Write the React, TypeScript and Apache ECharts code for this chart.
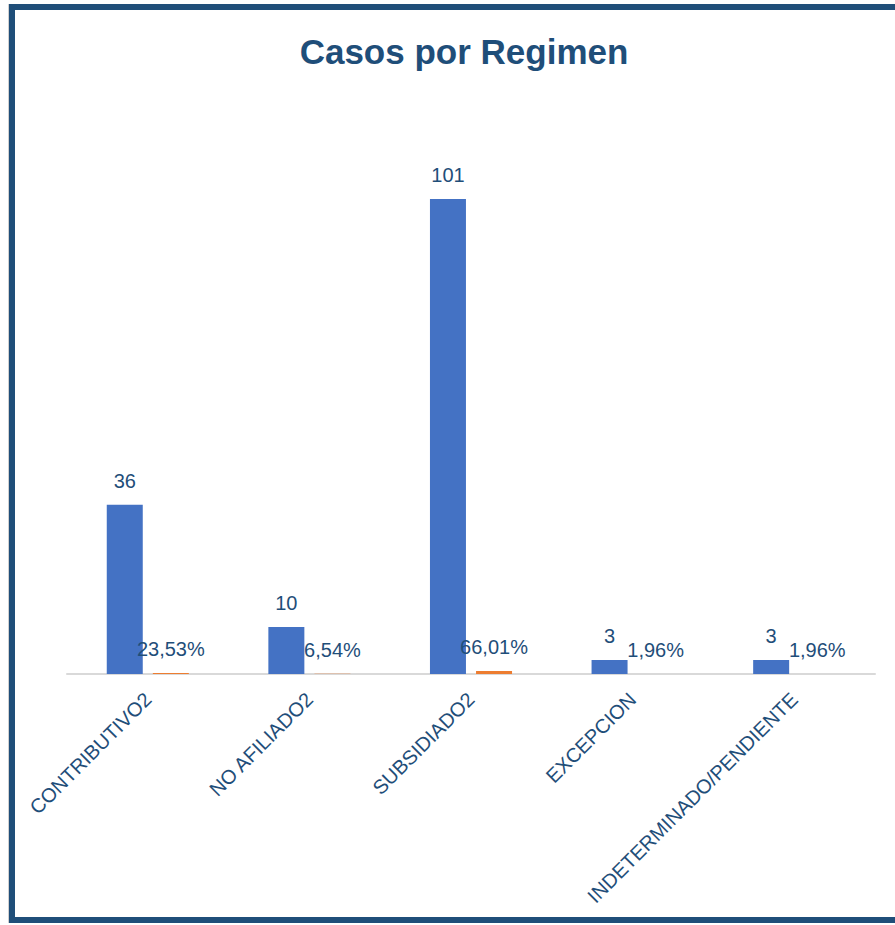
import React, { useEffect, useRef } from "react";
import * as echarts from "echarts";

const categories = [
  "CONTRIBUTIVO2",
  "NO AFILIADO2",
  "SUBSIDIADO2",
  "EXCEPCION",
  "INDETERMINADO/PENDIENTE",
];
const casos = [36, 10, 101, 3, 3];
const porcentaje = [0.2353, 0.0654, 0.6601, 0.0196, 0.0196];

const TEXT = "#1F4E79";
const FONT = "'Liberation Sans', Arial, sans-serif";

export default function App() {
  const ref = useRef<HTMLDivElement>(null);
  useEffect(() => {
    document.body.style.margin = "0";
    const chart = echarts.init(ref.current!, undefined, { renderer: "svg" });
    chart.setOption({
      animation: false,
      backgroundColor: "#ffffff",
      textStyle: { fontFamily: FONT },
      title: {
        text: "Casos por Regimen",
        left: 459,
        textAlign: "center",
        top: 29,
        textStyle: {
          color: TEXT,
          fontSize: 35,
          fontWeight: "bold",
          fontFamily: FONT,
        },
      },
      graphic: [
        {
          type: "line",
          shape: { x1: 8.5, y1: 4, x2: 8.5, y2: 923 },
          style: { stroke: "#d0d0d0", lineWidth: 1 },
          z: 10,
        },
        {
          type: "rect",
          shape: { x: 12, y: 7, width: 900, height: 913 },
          style: { fill: "none", stroke: "#1F4E79", lineWidth: 6 },
          z: 10,
        },
      ],
      grid: { left: 67, right: 20, top: 109.6, bottom: 251, containLabel: false },
      xAxis: {
        type: "category",
        data: categories,
        axisLine: { lineStyle: { color: "#d9d9d9", width: 2 } },
        axisTick: { show: false },
        axisLabel: {
          rotate: 45,
          interval: 0,
          margin: 22,
          color: TEXT,
          fontSize: 20,
          fontFamily: FONT,
        },
      },
      yAxis: {
        type: "value",
        min: 0,
        max: 120,
        show: false,
        splitLine: { show: false },
      },
      series: [
        {
          name: "Casos",
          type: "bar",
          data: casos,
          barWidth: 36,
          barGap: "28%",
          itemStyle: { color: "#4472C4" },
          label: {
            show: true,
            position: "top",
            distance: 14,
            color: TEXT,
            fontSize: 20,
            fontFamily: FONT,
          },
        },
        {
          name: "Porcentaje",
          type: "bar",
          data: porcentaje,
          barWidth: 36,
          itemStyle: { color: "#ED7D31" },
          label: {
            show: true,
            position: "top",
            distance: 14,
            color: TEXT,
            fontSize: 20,
            fontFamily: FONT,
            formatter: (p: any) =>
              (p.value * 100).toFixed(2).replace(".", ",") + "%",
          },
        },
      ],
    });
    return () => chart.dispose();
  }, []);
  return <div ref={ref} style={{ width: 895, height: 925 }} />;
}
